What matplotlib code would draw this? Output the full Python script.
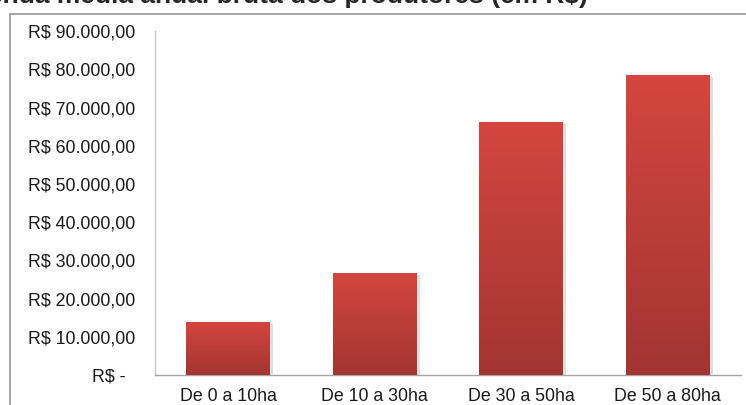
import numpy as np
import matplotlib
matplotlib.use("Agg")
import matplotlib.pyplot as plt
from matplotlib.patches import Rectangle
from matplotlib.colors import LinearSegmentedColormap
import matplotlib.patheffects as pe

plt.rcParams['font.family'] = ['Liberation Sans', 'DejaVu Sans']

categories = ["De 0 a 10ha", "De 10 a 30ha", "De 30 a 50ha", "De 50 a 80ha"]
values = [13900, 26700, 66300, 78450]
y_ticks = [0, 10000, 20000, 30000, 40000, 50000, 60000, 70000, 80000, 90000]
y_tick_labels = ["R$ -  ", "R$ 10.000,00", "R$ 20.000,00", "R$ 30.000,00",
                 "R$ 40.000,00", "R$ 50.000,00", "R$ 60.000,00", "R$ 70.000,00",
                 "R$ 80.000,00", "R$ 90.000,00"]
title = "Renda média anual bruta dos produtores (em R$)"

W, H = 746, 405
fig = plt.figure(figsize=(W / 100, H / 100), dpi=100)

# outer chart frame
frame = Rectangle((9.5 / W, -0.05), 1.2, (1 - 13.5 / H) + 0.05,
                  transform=fig.transFigure, fill=False,
                  edgecolor="#959595", linewidth=1.2, zorder=0)
fig.add_artist(frame)

# title (partly outside the canvas)
fig.text(588 / W, 1 - 2.5 / H, title, ha="right", va="baseline",
         fontsize=19, fontweight="bold", color="#262626")

ax = fig.add_axes([155 / W, 1 - 375 / H, (741 - 155) / W, (375 - 31.2) / H])
ax.set_xlim(-0.5, len(categories) - 0.5)
ax.set_ylim(0, 90000)

x = np.arange(len(categories))
bars = ax.bar(x, values, width=0.573, color="#c33f3b", zorder=2,
              path_effects=[pe.SimplePatchShadow(offset=(2, -1.5), shadow_rgbFace="#000000", alpha=0.12),
                            pe.Normal()])

cmap = LinearSegmentedColormap.from_list("barfill", ["#a23532", "#d4463f"])
grad = np.linspace(0, 1, 256).reshape(-1, 1)
for b in bars:
    x0, w, h = b.get_x(), b.get_width(), b.get_height()
    im = ax.imshow(grad, extent=[x0, x0 + w, 0, h], origin="lower",
                   cmap=cmap, aspect="auto", zorder=3, interpolation="bilinear")
    im.set_clip_path(b)
ax.set_xlim(-0.5, len(categories) - 0.5)
ax.set_ylim(0, 90000)

ax.set_yticks(y_ticks)
ax.set_yticklabels(y_tick_labels)
ax.set_xticks(x)
ax.set_xticklabels(categories)
ax.tick_params(axis="y", length=0, pad=14.5, labelsize=12.8, labelcolor="#1a1a1a")
ax.tick_params(axis="x", length=0, pad=9.5, labelsize=12.8, labelcolor="#1a1a1a")

for s in ["top", "right"]:
    ax.spines[s].set_visible(False)
ax.spines["left"].set_color("#c8c8c8")
ax.spines["left"].set_linewidth(1.0)
ax.spines["bottom"].set_color("#a6a6a6")
ax.spines["bottom"].set_linewidth(1.0)

fig.savefig("out.png", dpi=100)
